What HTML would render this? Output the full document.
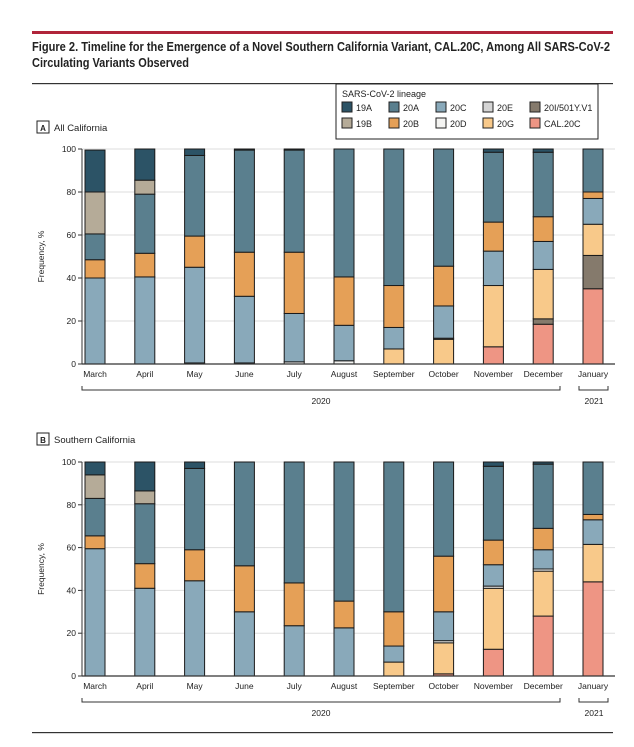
<!DOCTYPE html>
<html><head><meta charset="utf-8"><style>
body{margin:0;background:#fff;width:634px;height:742px;overflow:hidden;font-family:"Liberation Sans",sans-serif}
svg text{font-family:"Liberation Sans",sans-serif}
</style></head><body>
<svg id="fig" width="634" height="742" xmlns="http://www.w3.org/2000/svg">
<rect x="32" y="31" width="581" height="3" fill="#b0243a"/>
<text x="32" y="51" font-size="12.5" font-weight="bold" fill="#222" textLength="578" lengthAdjust="spacingAndGlyphs">Figure 2. Timeline for the Emergence of a Novel Southern California Variant, CAL.20C, Among All SARS-CoV-2</text>
<text x="32" y="67" font-size="12.5" font-weight="bold" fill="#222" textLength="157" lengthAdjust="spacingAndGlyphs">Circulating Variants Observed</text>
<rect x="32" y="83" width="581" height="1.2" fill="#333"/>
<rect x="32" y="732" width="581" height="1.2" fill="#333"/>
<g id="legend">
<rect x="336" y="84" width="262" height="55" fill="#fff" stroke="#222" stroke-width="1"/>
<text x="342" y="97" font-size="9" fill="#222">SARS-CoV-2 lineage</text>
</g>
<g id="charts"></g>
</svg>
<script>
const months=["March","April","May","June","July","August","September","October","November","December","January"];
const lineages=["CAL.20C","20I/501Y.V1","20G","20D","20C","20B","20E","20A","19B","19A"];
const colors=["#ee9584","#857a6c","#f8c98a","#f4f4f2","#89a9ba","#e5a057","#d4d4d4","#5a7f8e","#b5ab98","#2c5366"];
const yTicks=[0,20,40,60,80,100];
// Panel A values by lineage (rows follow lineages order), columns follow months
const aCAL  =[0,0,0,0,0,0,0,0,8,18.5,35];
const a20I  =[0,0,0,0,0,0,0,0,0,2.5,15.5];
const a20G  =[0,0,0,0,0,0,7,11.5,28.5,23,14.5];
const a20D  =[0,0,0.5,0.5,1,1.5,0,0.5,0,0,0];
const a20C  =[40,40.5,44.5,31,22.5,16.5,10,15,16,13,12];
const a20B  =[8.5,11,14.5,20.5,28.5,22.5,19.5,18.5,13.5,11.5,3];
const a20E  =[0,0,0,0,0,0,0,0,0,0,0];
const a20A  =[12,27.5,37.5,47.5,47.5,59.5,63.5,54.5,32.5,30,20];
const a19B  =[19.5,6.5,0,0,0,0,0,0,0,0,0];
const a19A  =[19.5,14.5,3,0.5,0.5,0,0,0,1.5,1.5,0];
// Panel B
const bCAL  =[0,0,0,0,0,0,0,1,12.5,28,44];
const b20I  =[0,0,0,0,0,0,0,0,0,0,0];
const b20G  =[0,0,0,0,0,0,6.5,14.5,28.5,21,17.5];
const b20D  =[0,0,0,0,0,0,0,1,1,1,0];
const b20C  =[59.5,41,44.5,30,23.5,22.5,7.5,13.5,10,9,11.5];
const b20B  =[6,11.5,14.5,21.5,20,12.5,16,26,11.5,10,2.5];
const b20E  =[0,0,0,0,0,0,0,0,0,0,0];
const b20A  =[17.5,28,38,48.5,56.5,65,70,44,34.5,30,24.5];
const b19B  =[11,6,0,0,0,0,0,0,0,0,0];
const b19A  =[6,13.5,3,0,0,0,0,0,2,1,0];
const panelA=[aCAL,a20I,a20G,a20D,a20C,a20B,a20E,a20A,a19B,a19A];
const panelB=[bCAL,b20I,b20G,b20D,b20C,b20B,b20E,b20A,b19B,b19A];

const NS="http://www.w3.org/2000/svg";
function mk(tag,attrs,parent,txt){const e=document.createElementNS(NS,tag);for(const k in attrs)e.setAttribute(k,attrs[k]);if(txt!==undefined)e.textContent=txt;parent.appendChild(e);return e;}

// legend entries
const lg=document.getElementById('legend');
const legOrder=[["19A",9],["20A",7],["20C",4],["20E",6],["20I/501Y.V1",1],["19B",8],["20B",5],["20D",3],["20G",2],["CAL.20C",0]];
legOrder.forEach((d,i)=>{
  const col=i%5,row=Math.floor(i/5);
  const x=342+col*47,y=102+row*16;
  const g=mk('g',{},lg);
  
  
  mk('rect',{x:x,y:y,width:10,height:10,fill:colors[d[1]],stroke:'#222','stroke-width':1},g);
  mk('text',{x:x+14,y:y+9,'font-size':9,fill:'#222'},g,d[0]);
});

const root=document.getElementById('charts');
function panel(data,letter,title,labelY,top,bottom){
  const g=mk('g',{},root);
  
  
  const lb=mk('g',{},g);
  
  
  mk('rect',{x:37,y:labelY-9,width:12,height:12,fill:'#fff',stroke:'#222','stroke-width':1},lb);
  mk('text',{x:43,y:labelY+1,'font-size':8,'text-anchor':'middle','font-weight':'bold',fill:'#222'},lb,letter);
  mk('text',{x:54,y:labelY+1,'font-size':9.5,fill:'#222'},lb,title);
  const x0=82,x1=615;
  const y=v=>bottom-(bottom-top)*v/100;
  const xc=i=>95+i*49.8;
  yTicks.forEach(t=>{
    if(t>0){const gl=mk('line',{x1:x0,x2:x1,y1:y(t),y2:y(t),stroke:'#ddd','stroke-width':1},g);
    
    }
    mk('line',{x1:x0-4,x2:x0,y1:y(t),y2:y(t),stroke:'#333'},g);
    const tl=mk('text',{x:x0-6,y:y(t)+3,'font-size':8.5,'text-anchor':'end',fill:'#222'},g,t);
    
    
  });
  const yt=mk('text',{x:0,y:0,'font-size':8.5,'text-anchor':'middle',fill:'#222',transform:`translate(44,${(top+bottom)/2}) rotate(-90)`},g,'Frequency, %');
  
  
  months.forEach((m,i)=>{
    let acc=0;
    data.forEach((ser,s)=>{
      const v=ser[i];if(v<=0)return;
      const r=mk('rect',{x:xc(i)-10,y:y(acc+v),width:20,height:y(acc)-y(acc+v),fill:colors[s],stroke:'#1a1a1a','stroke-width':1},g);
      
      
      acc+=v;
    });
    const ml=mk('text',{x:xc(i),y:bottom+13,'font-size':8.5,'text-anchor':'middle',fill:'#222'},g,m);
    
    
  });
  mk('line',{x1:x0,x2:x0,y1:top,y2:bottom,stroke:'#333','stroke-width':1},g);
  mk('line',{x1:x0,x2:x1,y1:bottom,y2:bottom,stroke:'#333','stroke-width':1.2},g);
  const by=bottom+26;
  const b1=mk('path',{d:`M82 ${by-4}V${by}H560V${by-4}`,fill:'none',stroke:'#333'},g);
  
  
  const b2=mk('path',{d:`M579 ${by-4}V${by}H608V${by-4}`,fill:'none',stroke:'#333'},g);
  
  
  const t1=mk('text',{x:321,y:by+14,'font-size':8.5,'text-anchor':'middle',fill:'#222'},g,'2020');
  
  
  const t2=mk('text',{x:594,y:by+14,'font-size':8.5,'text-anchor':'middle',fill:'#222'},g,'2021');
  
  
}
panel(panelA,'A','All California',130,149,364);
panel(panelB,'B','Southern California',442,462,676);
</script>
</body></html>
